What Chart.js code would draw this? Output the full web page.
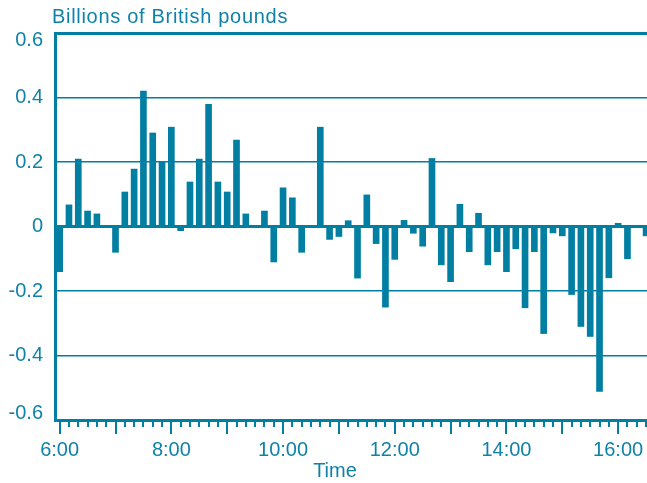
<!DOCTYPE html>
<html>
<head>
<meta charset="utf-8">
<script src="https://cdn.jsdelivr.net/npm/chart.js@4.4.0/dist/chart.umd.min.js"></script>
<style>
  html, body { margin: 0; padding: 0; background: #fff; }
  canvas { display: block; }
</style>
</head>
<body>
<canvas id="chart" width="647" height="483"></canvas>
<script>
// one bar every 10 minutes, 6:00 to 16:30
const times = [
  '6:00', '6:10', '6:20', '6:30', '6:40', '6:50',
  '7:00', '7:10', '7:20', '7:30', '7:40', '7:50',
  '8:00', '8:10', '8:20', '8:30', '8:40', '8:50',
  '9:00', '9:10', '9:20', '9:30', '9:40', '9:50',
  '10:00', '10:10', '10:20', '10:30', '10:40', '10:50',
  '11:00', '11:10', '11:20', '11:30', '11:40', '11:50',
  '12:00', '12:10', '12:20', '12:30', '12:40', '12:50',
  '13:00', '13:10', '13:20', '13:30', '13:40', '13:50',
  '14:00', '14:10', '14:20', '14:30', '14:40', '14:50',
  '15:00', '15:10', '15:20', '15:30', '15:40', '15:50',
  '16:00', '16:10', '16:20', '16:30'
];

// billions of British pounds
const flows = [
  -0.14, 0.067, 0.209, 0.048, 0.039, 0,
  -0.08, 0.107, 0.178, 0.42, 0.29, 0.2,
  0.308, -0.013, 0.138, 0.209, 0.379, 0.138,
  0.107, 0.268, 0.039, 0, 0.048, -0.11,
  0.12, 0.089, -0.08, 0, 0.308, -0.04,
  -0.031, 0.018, -0.16, 0.098, -0.053, -0.25,
  -0.102, 0.019, -0.021, -0.061, 0.211, -0.119,
  -0.171, 0.069, -0.078, 0.041, -0.119, -0.078,
  -0.14, -0.069, -0.252, -0.078, -0.332, -0.02,
  -0.029, -0.211, -0.31, -0.341, -0.511, -0.159,
  0.01, -0.1, 0, -0.029
];

const xTickLabels = ['6:00', '8:00', '10:00', '12:00', '14:00', '16:00'];
const yTicks = [-0.6, -0.4, -0.2, 0, 0.2, 0.4, 0.6];
const yTickLabels = ['-0.6', '-0.4', '-0.2', '0', '0.2', '0.4', '0.6'];
const unitLabel = 'Billions of British pounds';
const xTitle = 'Time';

const teal = '#007fa3';
const textTeal = '#0e82a7';
const FONT = "'Liberation Sans', Arial, Helvetica, sans-serif";

function toMinutes(t) {
  const [h, m] = t.split(':').map(Number);
  return h * 60 + m;
}

// minor ticks every 10 min, longer ones on the hour, plus the two free texts
const axisDecor = {
  id: 'axisDecor',
  afterDraw(chart) {
    const { ctx, chartArea } = chart;
    const x = chart.scales.x;
    ctx.save();
    ctx.strokeStyle = teal;
    ctx.lineWidth = 2;
    x.ticks.forEach(t => {
      const px = Math.round(x.getPixelForValue(t.value));
      const len = t.value % 60 === 0 ? 14 : 7;
      ctx.beginPath();
      ctx.moveTo(px, chartArea.bottom);
      ctx.lineTo(px, chartArea.bottom + len);
      ctx.stroke();
    });
    ctx.fillStyle = textTeal;
    ctx.font = '20px ' + FONT;
    ctx.textBaseline = 'alphabetic';
    ctx.textAlign = 'center';
    ctx.fillText(xTitle, 335, 477);
    ctx.textAlign = 'left';
    ctx.letterSpacing = '0.7px';
    ctx.fillText(unitLabel, chartArea.left - 3, chartArea.top - 10);
    ctx.restore();
  }
};

new Chart(document.getElementById('chart'), {
  type: 'bar',
  data: {
    datasets: [{
      data: times.map((t, i) => ({ x: toMinutes(t), y: flows[i] })),
      backgroundColor: teal,
      borderWidth: 0,
      barThickness: 6
    }]
  },
  options: {
    responsive: false,
    animation: false,
    layout: { padding: { top: 33, right: 0, left: 0, bottom: 0 } },
    plugins: {
      legend: { display: false },
      tooltip: { enabled: false }
    },
    scales: {
      x: {
        type: 'linear',
        offset: false,
        min: 355,
        max: 991,
        afterBuildTicks: scale => {
          scale.ticks = times.map(t => ({ value: toMinutes(t) }));
        },
        afterFit: scale => {
          scale.height = 63;
          scale.paddingLeft = 0;
          scale.paddingRight = 0;
        },
        grid: { display: true, offset: false, drawOnChartArea: false, drawTicks: false },
        border: { display: true, color: teal, width: 3 },
        ticks: {
          autoSkip: false,
          maxRotation: 0,
          padding: 18,
          color: textTeal,
          font: { family: FONT, size: 20 },
          callback: value => {
            const hit = xTickLabels.find(l => toMinutes(l) === value);
            return hit || '';
          }
        }
      },
      y: {
        min: -0.6,
        max: 0.6,
        afterBuildTicks: scale => {
          scale.ticks = yTicks.map(v => ({ value: v }));
        },
        afterFit: scale => {
          scale.width = 55;
          scale.paddingTop = 0;
          scale.paddingBottom = 0;
        },
        grid: {
          color: teal,
          lineWidth: c => (c.tick && (c.tick.value === 0 || c.tick.value === 0.6)) ? 3 : 1.5,
          drawTicks: false
        },
        border: { display: true, color: teal, width: 3 },
        ticks: {
          padding: 12,
          color: textTeal,
          font: { family: FONT, size: 20, lineHeight: 0.7 },
          callback: (value, i) => {
            const label = yTickLabels[i];
            if (i === yTickLabels.length - 1) return ['', label];
            if (i === 0) return [label, ''];
            return label;
          }
        }
      }
    }
  },
  plugins: [axisDecor]
});
</script>
</body>
</html>
